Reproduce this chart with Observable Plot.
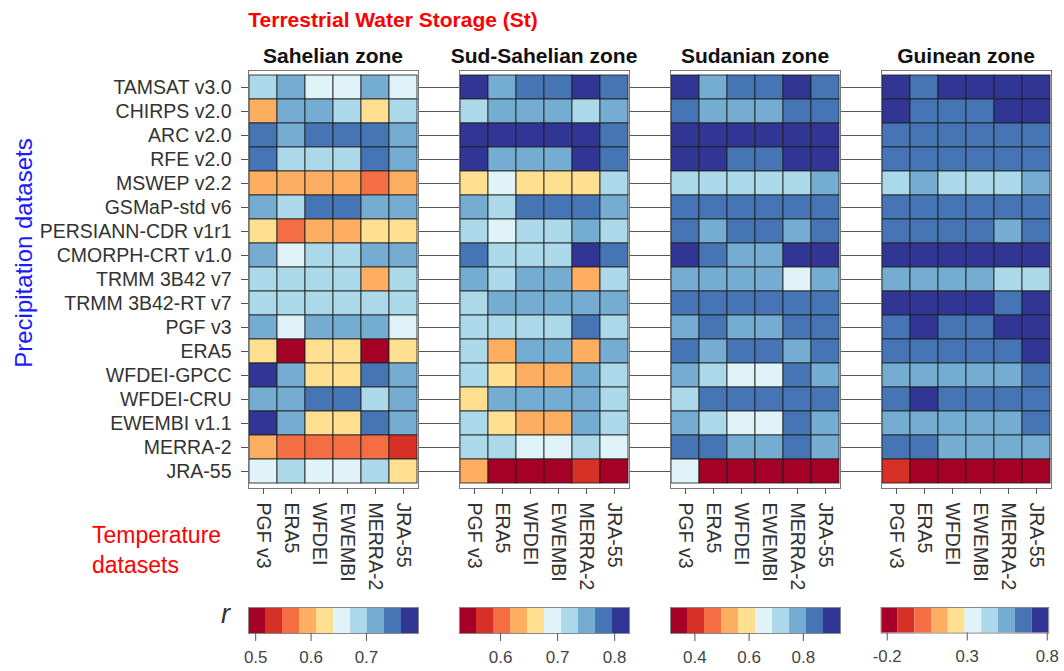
<!DOCTYPE html>
<html><head><meta charset="utf-8">
<script src="https://cdn.jsdelivr.net/npm/d3@7"></script>
<script src="https://cdn.jsdelivr.net/npm/@observablehq/plot@0.6"></script>
<style>
body{margin:0;background:#fff;font-family:"Liberation Sans",Arial,sans-serif;}
#wrap{position:relative;width:1064px;height:671px;overflow:hidden;background:#fff;}
.abs{position:absolute;}
</style></head><body><div id="wrap"></div>
<script>
const precipDatasets = ["TAMSAT v3.0","CHIRPS v2.0","ARC v2.0","RFE v2.0","MSWEP v2.2","GSMaP-std v6","PERSIANN-CDR v1r1","CMORPH-CRT v1.0","TRMM 3B42 v7","TRMM 3B42-RT v7","PGF v3","ERA5","WFDEI-GPCC","WFDEI-CRU","EWEMBI v1.1","MERRA-2","JRA-55"];
const tempDatasets = ["PGF v3","ERA5","WFDEI","EWEMBI","MERRA-2","JRA-55"];
const zones = ["Sahelian zone","Sud-Sahelian zone","Sudanian zone","Guinean zone"];

const rSahelian = [
[0.69,0.72,0.66,0.66,0.72,0.66],
[0.59,0.72,0.72,0.69,0.62,0.69],
[0.75,0.72,0.75,0.75,0.75,0.72],
[0.75,0.69,0.69,0.69,0.75,0.72],
[0.59,0.59,0.59,0.59,0.56,0.59],
[0.72,0.69,0.75,0.75,0.72,0.72],
[0.62,0.56,0.59,0.59,0.62,0.62],
[0.72,0.66,0.69,0.69,0.72,0.72],
[0.69,0.69,0.69,0.69,0.59,0.69],
[0.69,0.69,0.69,0.69,0.69,0.69],
[0.72,0.66,0.72,0.72,0.72,0.66],
[0.62,0.50,0.62,0.62,0.50,0.62],
[0.78,0.72,0.62,0.62,0.75,0.72],
[0.72,0.72,0.75,0.75,0.69,0.72],
[0.78,0.72,0.62,0.62,0.75,0.72],
[0.59,0.56,0.56,0.56,0.56,0.53],
[0.66,0.69,0.66,0.66,0.69,0.62]
];
const rSudSahelian = [
[0.81,0.75,0.78,0.78,0.81,0.78],
[0.72,0.75,0.75,0.75,0.72,0.75],
[0.81,0.81,0.81,0.81,0.81,0.78],
[0.81,0.75,0.75,0.75,0.81,0.78],
[0.66,0.69,0.66,0.66,0.66,0.72],
[0.75,0.72,0.78,0.78,0.78,0.75],
[0.72,0.69,0.72,0.72,0.75,0.72],
[0.78,0.72,0.72,0.72,0.81,0.78],
[0.75,0.72,0.75,0.75,0.63,0.72],
[0.72,0.75,0.75,0.75,0.75,0.75],
[0.72,0.72,0.72,0.72,0.78,0.72],
[0.72,0.63,0.75,0.75,0.63,0.75],
[0.72,0.66,0.63,0.63,0.75,0.72],
[0.66,0.75,0.75,0.75,0.75,0.72],
[0.72,0.66,0.63,0.63,0.75,0.72],
[0.72,0.72,0.69,0.69,0.72,0.69],
[0.63,0.54,0.54,0.54,0.57,0.54]
];
const rSudanian = [
[0.91,0.78,0.84,0.84,0.91,0.84],
[0.84,0.78,0.78,0.78,0.84,0.84],
[0.91,0.91,0.91,0.91,0.91,0.91],
[0.91,0.91,0.84,0.84,0.91,0.91],
[0.72,0.72,0.72,0.72,0.72,0.78],
[0.84,0.84,0.84,0.84,0.84,0.84],
[0.84,0.78,0.84,0.84,0.78,0.84],
[0.91,0.84,0.78,0.78,0.91,0.91],
[0.78,0.78,0.78,0.78,0.65,0.78],
[0.84,0.84,0.84,0.84,0.84,0.84],
[0.78,0.84,0.78,0.78,0.84,0.84],
[0.84,0.78,0.84,0.84,0.78,0.84],
[0.78,0.72,0.65,0.65,0.84,0.78],
[0.72,0.84,0.84,0.84,0.84,0.84],
[0.78,0.72,0.65,0.65,0.84,0.78],
[0.84,0.84,0.78,0.78,0.84,0.78],
[0.65,0.34,0.34,0.34,0.34,0.34]
];
const rGuinean = [
[0.76,0.65,0.76,0.76,0.76,0.76],
[0.76,0.65,0.65,0.65,0.76,0.76],
[0.65,0.65,0.65,0.65,0.65,0.65],
[0.65,0.65,0.65,0.65,0.65,0.65],
[0.44,0.55,0.44,0.44,0.44,0.55],
[0.65,0.65,0.65,0.65,0.65,0.65],
[0.65,0.65,0.65,0.65,0.55,0.65],
[0.76,0.76,0.76,0.76,0.76,0.76],
[0.55,0.55,0.55,0.55,0.44,0.44],
[0.76,0.76,0.76,0.76,0.65,0.76],
[0.65,0.76,0.65,0.65,0.76,0.76],
[0.65,0.65,0.65,0.65,0.65,0.76],
[0.55,0.55,0.55,0.55,0.55,0.65],
[0.65,0.76,0.65,0.65,0.65,0.65],
[0.55,0.55,0.55,0.55,0.55,0.65],
[0.65,0.65,0.55,0.55,0.55,0.55],
[-0.08,-0.18,-0.18,-0.18,-0.18,-0.18]
];
const zoneValues = [rSahelian, rSudSahelian, rSudanian, rGuinean];
const colorDomains = [[0.487,0.794],[0.528,0.826],[0.31,0.937],[-0.237,0.809]];
const colorTicks = [[0.5,0.6,0.7],[0.6,0.7,0.8],[0.4,0.6,0.8],[-0.2,0.3,0.8]];
const nClasses = 10;

// layout
const FONT = "'Liberation Sans', Arial, Helvetica, sans-serif";
const cellLeft = [248, 459, 670, 881];
const cellW = 170, cellTop = 70, cellH = 418;
const barTop = 606.5, barH = 26;

const wrap = document.getElementById("wrap");
function place(el, left, top) {
  const d = document.createElement("div");
  d.className = "abs";
  d.style.left = left + "px";
  d.style.top = top + "px";
  d.appendChild(el);
  wrap.appendChild(d);
}
function colorOpts(i) {
  return {type: "quantize", domain: colorDomains[i], range: d3.schemeRdYlBu[nClasses]};
}

zones.forEach((zone, i) => {
  const rows = [];
  zoneValues[i].forEach((row, ri) => row.forEach((v, ci) =>
    rows.push({precip: precipDatasets[ri], temp: tempDatasets[ci], r: v})));
  const mL = i === 0 ? 248 : 21;
  const mR = i === 3 ? 2 : 21;
  const mT = 1, mB = 100;
  const marks = [
    Plot.cell(rows, {x: "temp", y: "precip", fill: "r", stroke: "#1e1e1e", strokeOpacity: 0.85, strokeWidth: 1}),
    Plot.frame({stroke: "#777", strokeWidth: 1}),
    i === 0
      ? Plot.axisY({anchor: "left", tickSize: 7, tickPadding: 10, fontSize: 19.5, stroke: "#555", fill: "#333", label: null})
      : Plot.axisY({anchor: "left", tickSize: 21, tickFormat: () => "", stroke: "#555", label: null}),
    Plot.axisX({anchor: "bottom", tickSize: 6, tickPadding: 8, tickRotate: 90, fontSize: 19.5, stroke: "#555", fill: "#333", label: null})
  ];
  if (i < 3) marks.push(Plot.axisY({anchor: "right", tickSize: 21, tickFormat: () => "", stroke: "#555", label: null}));
  const plot = Plot.plot({
    width: mL + cellW + mR, height: mT + cellH + mB,
    marginLeft: mL, marginRight: mR, marginTop: mT, marginBottom: mB,
    x: {domain: tempDatasets, padding: 0, label: null},
    y: {domain: precipDatasets, padding: 0, label: null},
    color: colorOpts(i),
    style: {fontFamily: FONT, background: "transparent", overflow: "visible", color: "#333"},
    marks
  });
  place(plot, cellLeft[i] - mL, cellTop - mT);

  // colour bar
  const [lo, hi] = colorDomains[i];
  const w = (hi - lo) / nClasses;
  const bins = d3.range(nClasses).map(k => ({x1: lo + k * w, x2: lo + (k + 1) * w, v: lo + (k + 0.5) * w}));
  const bmL = 14, bmR = 16;
  const bar = Plot.plot({
    width: bmL + cellW + bmR, height: 1 + barH + 44,
    marginLeft: bmL, marginRight: bmR, marginTop: 1, marginBottom: 44,
    x: {domain: [lo, hi], label: null},
    color: colorOpts(i),
    style: {fontFamily: FONT, background: "transparent", overflow: "visible", color: "#444"},
    marks: [
      Plot.rect(bins, {x1: "x1", x2: "x2", fill: "v"}),
      Plot.frame({stroke: "#888"}),
      Plot.axisX({ticks: colorTicks[i], tickFormat: d => String(d), tickSize: 8, tickPadding: 9, fontSize: 17, stroke: "#555", fill: "#444", label: null})
    ]
  });
  place(bar, cellLeft[i] - bmL, barTop - 1);
});

// text overlay
const svg = d3.create("svg").attr("width", 1064).attr("height", 671)
  .style("position", "absolute").style("left", "0px").style("top", "0px")
  .style("pointer-events", "none").style("font-family", FONT);
svg.append("text").attr("x", 393).attr("y", 27).attr("text-anchor", "middle")
  .attr("font-size", 21).attr("font-weight", "bold").attr("fill", "#ff0000")
  .text("Terrestrial Water Storage (St)");
zones.forEach((z, i) => {
  svg.append("text").attr("x", cellLeft[i] + cellW / 2).attr("y", 62.5).attr("text-anchor", "middle")
    .attr("font-size", 21).attr("font-weight", "bold").attr("fill", "#111").text(z);
});
svg.append("text").attr("transform", "translate(32,253) rotate(-90)").attr("text-anchor", "middle")
  .attr("font-size", 24).attr("fill", "#1a1aff").text("Precipitation datasets");
svg.append("text").attr("x", 92).attr("y", 543).attr("font-size", 23).attr("fill", "#ff0000").text("Temperature");
svg.append("text").attr("x", 92).attr("y", 573).attr("font-size", 23).attr("fill", "#ff0000").text("datasets");
svg.append("text").attr("x", 221).attr("y", 623).attr("font-size", 27).attr("font-style", "italic").attr("fill", "#333").text("r");
wrap.appendChild(svg.node());
</script>
</body></html>
